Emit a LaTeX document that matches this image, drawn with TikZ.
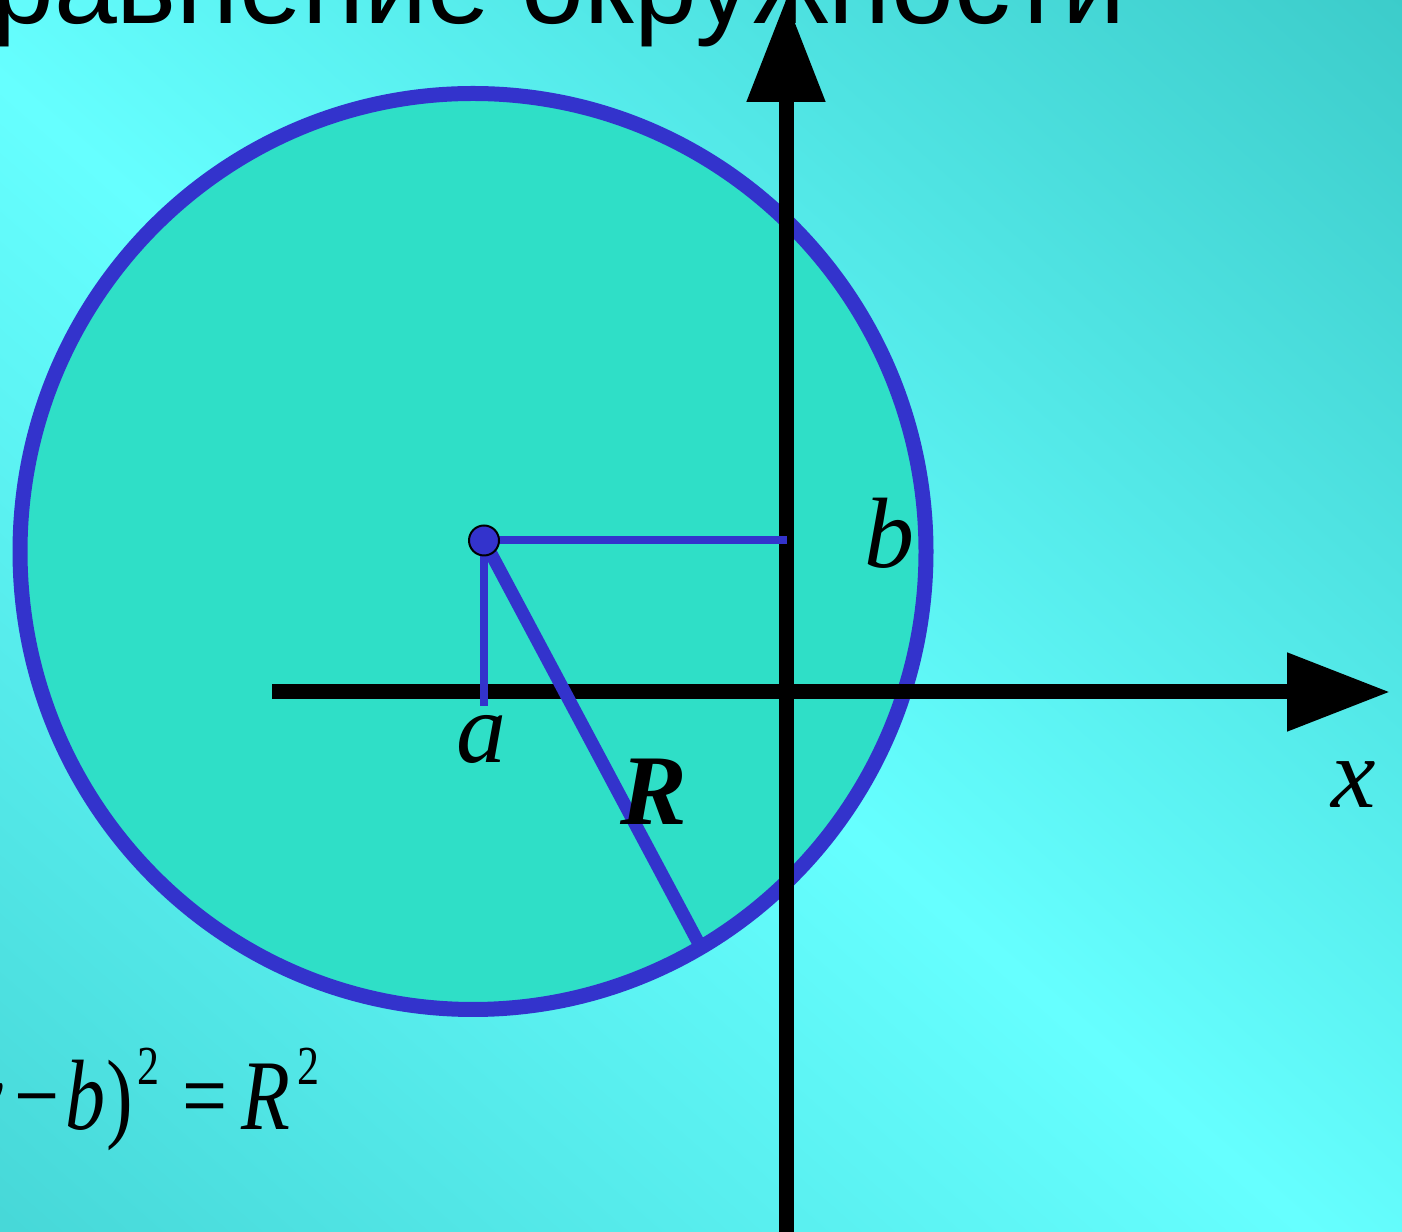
\documentclass[tikz,border=0pt]{standalone}
\usepackage{fontspec}
\usepackage{graphicx}
\setmainfont{Liberation Serif}
\newfontfamily\titlefam{Liberation Sans}
\usetikzlibrary{arrows.meta}
\definecolor{bglight}{HTML}{66FFFF}
\definecolor{bgtr}{HTML}{3CCCCA}
\definecolor{bgbl}{HTML}{42D2D2}
\definecolor{disk}{HTML}{2FDFC7}
\definecolor{blueline}{HTML}{3333CC}
\newcommand{\fx}[1]{\scalebox{0.8}[1]{#1}}
\tikzset{
  axisline/.style={line width=15pt, black, -{Triangle[length=103pt,width=75pt]}},
  thinblue/.style={line width=8pt, blueline},
  radiusline/.style={line width=13pt, blueline},
  dotnode/.style={circle, minimum size=30pt, inner sep=0pt, fill=blueline, draw=black, line width=2pt},
  lab/.style={inner sep=0pt, font=\itshape\fontsize{100}{110}\selectfont},
  boldlab/.style={inner sep=0pt, font=\bfseries\itshape\fontsize{100}{110}\selectfont},
  formula/.style={inner sep=0pt, font=\fontsize{100}{110}\selectfont},
  formulasup/.style={inner sep=0pt, font=\fontsize{55}{60}\selectfont},
  titletext/.style={inner sep=0pt, font=\titlefam\fontsize{113}{130}\selectfont}
}
\begin{document}
\begin{tikzpicture}[x=1pt,y=1pt]
\useasboundingbox (0,0) rectangle (1402,1231);
\begin{scope}
\clip (0,0) rectangle (1402,1231);
% background
\shade[top color=bgtr, bottom color=bgbl, middle color=bglight, shading angle=-41.3]
  (-328.6,-419.6) rectangle (1651.4,1560.4);
% circle
\draw[line width=15pt, blueline, fill=disk] (473,679.5) ellipse [x radius=453, y radius=458];
% title
\node[titletext, anchor=base east] (title) at (1126,1207) {Уравнение окружности};
% axes
\coordinate (xs) at (272,539);
\coordinate (xe) at (1390,539);
\coordinate (ys) at (786,-20);
\coordinate (ye) at (786,1232);
\draw[axisline] (xs) -- (xe);
\draw[axisline] (ys) -- (ye);
% centre and segments
\coordinate (ctr) at (484,690.5);
\coordinate (hb) at (786.5,690.5);
\coordinate (ha) at (484,525);
\coordinate (rend) at (698,289);
\draw[radiusline] (ctr) -- (rend);
\draw[thinblue] (ctr) -- (hb);
\draw[thinblue] (ctr) -- (ha);
\node[dotnode] (c) at (ctr) {};
% labels
\node[lab, anchor=base] (la) at (481,468) {a};
\node[lab, anchor=base] (lb) at (889,663) {b};
\node[lab, anchor=base] (lx) at (1354,423) {x};
\node[boldlab, anchor=base] (lR) at (654,406) {R};
% formula
\node[formula, anchor=base east] (fl) at (3,101) {\fx{(\textit{x} − \textit{a})\raisebox{45pt}{\fontsize{55}{60}\selectfont 2} + (\textit{y}}};
\node[formula, anchor=base] (fm) at (37,101) {\fx{−}};
\node[formula, anchor=base] (fb) at (85,101) {\fx{\textit{b}}};
\node[formula, anchor=base] (fp) at (120,101) {\fx{)}};
\node[formulasup, anchor=base] (fs1) at (148,146) {\fx{2}};
\node[formula, anchor=base] (feq) at (205,101) {\fx{=}};
\node[formula, anchor=base] (fR) at (266,101) {\fx{\textit{R}}};
\node[formulasup, anchor=base] (fs2) at (308,146) {\fx{2}};
\end{scope}
\end{tikzpicture}
\end{document}
